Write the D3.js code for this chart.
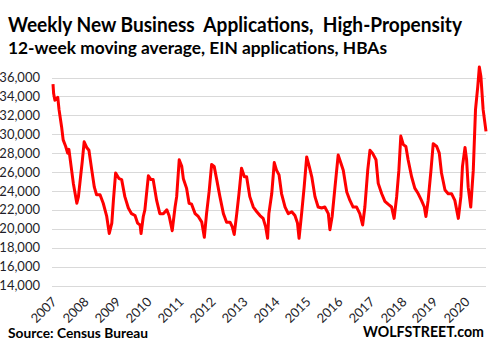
<!DOCTYPE html>
<html>
<head>
  <title>Weekly New Business Applications</title>
  <style>
    body { margin: 0; background: #fff; }
    #chart { position: relative; width: 495px; height: 351px; }
    .grid line { stroke: #d9d9d9; stroke-width: 1; shape-rendering: crispEdges; }
    .tick-label { font-family: Lato, "Open Sans", sans-serif; font-size: 13px; fill: #1e1e28; }
    .year-label {
      position: absolute;
      width: 40px;
      height: 16px;
      line-height: 16px;
      text-align: right;
      font-family: Lato, "Open Sans", sans-serif;
      font-size: 13px;
      color: #1e1e28;
      transform-origin: 100% 50%;
      transform: rotate(-45deg);
      white-space: nowrap;
    }
    .title { font-family: Lato, "Open Sans", sans-serif; font-weight: bold; fill: #000; white-space: pre; }
    .series { fill: none; stroke: #ff0000; stroke-width: 3; stroke-linejoin: round; }
  </style>
  <script src="https://d3js.org/d3.v7.min.js"></script>
</head>
<body>
  <div id="chart"></div>
  <script>
    const width = 495;
    const height = 351;

    // time as decimal year, 12-week moving average of HBA applications
    const weeks = [
      2007.00, 2007.02, 2007.06, 2007.15, 2007.19, 2007.27, 2007.32, 2007.40, 2007.46, 2007.50,
      2007.57, 2007.64, 2007.75, 2007.80, 2007.88, 2007.92, 2007.98, 2008.06, 2008.13, 2008.22,
      2008.30, 2008.37, 2008.48, 2008.58, 2008.69, 2008.77, 2008.85, 2008.90, 2008.97, 2009.08,
      2009.16, 2009.26, 2009.37, 2009.47, 2009.58, 2009.66, 2009.74, 2009.77, 2009.84, 2009.89,
      2010.00, 2010.08, 2010.15, 2010.26, 2010.36, 2010.47, 2010.58, 2010.65, 2010.75, 2010.84,
      2010.89, 2010.97, 2011.05, 2011.10, 2011.20, 2011.28, 2011.36, 2011.47, 2011.57, 2011.68,
      2011.76, 2011.83, 2011.91, 2011.99, 2012.07, 2012.15, 2012.25, 2012.36, 2012.46, 2012.57,
      2012.64, 2012.70, 2012.78, 2012.85, 2012.93, 2013.02, 2013.09, 2013.19, 2013.30, 2013.41,
      2013.51, 2013.61, 2013.69, 2013.75, 2013.79, 2013.88, 2013.96, 2014.03, 2014.11, 2014.19,
      2014.30, 2014.40, 2014.51, 2014.61, 2014.69, 2014.74, 2014.82, 2014.90, 2014.98, 2015.06,
      2015.14, 2015.24, 2015.34, 2015.45, 2015.55, 2015.66, 2015.71, 2015.78, 2015.87, 2015.97,
      2016.06, 2016.13, 2016.24, 2016.34, 2016.44, 2016.55, 2016.65, 2016.74, 2016.81, 2016.90,
      2016.97, 2017.05, 2017.16, 2017.23, 2017.34, 2017.44, 2017.54, 2017.65, 2017.73, 2017.81,
      2017.88, 2017.94, 2018.02, 2018.10, 2018.17, 2018.28, 2018.38, 2018.49, 2018.59, 2018.68,
      2018.73, 2018.80, 2018.89, 2018.96, 2019.07, 2019.15, 2019.22, 2019.33, 2019.43, 2019.54,
      2019.64, 2019.75, 2019.83, 2019.88, 2019.96, 2020.01, 2020.06, 2020.14, 2020.22, 2020.29,
      2020.36, 2020.41, 2020.46, 2020.53, 2020.62
    ];
    const applications = [
      35300, 34300, 33600, 33900, 32600, 30800, 29400, 28700, 28000, 28400,
      26600, 24800, 22700, 23400, 25900, 27100, 29200, 28600, 28300, 26200,
      24400, 23600, 23600, 22700, 21300, 19500, 20600, 23000, 25900, 25300,
      25200, 23400, 22200, 21600, 21400, 20600, 20400, 19500, 21300, 22000,
      25600, 25200, 25200, 23000, 21600, 21600, 22000, 21400, 19800, 22300,
      23400, 27300, 26600, 25300, 24300, 22700, 22600, 21600, 21300, 20700,
      19100, 21600, 23900, 26800, 26600, 25200, 23400, 21600, 20700, 20700,
      20200, 19400, 21600, 23700, 26400, 25500, 25500, 23400, 22300, 21800,
      21400, 21100, 20200, 19000, 21600, 23700, 27000, 26200, 25700, 23700,
      22300, 21600, 21800, 21400, 20600, 19000, 21600, 24400, 27600, 26600,
      25500, 23400, 22300, 22200, 22300, 21600, 19900, 21300, 24400, 27800,
      26900, 26200, 23900, 23000, 22300, 22300, 21600, 20400, 22300, 26200,
      28300, 28000, 27300, 24800, 23700, 22900, 22600, 22300, 21100, 23400,
      26200, 29800, 28900, 28700, 27300, 25500, 24300, 23700, 23000, 22300,
      21300, 23000, 26200, 29000, 28700, 28000, 25900, 24100, 23700, 23700,
      23000, 21100, 23400, 26600, 28600, 27300, 24400, 22300, 26200, 32600,
      35000, 37100, 36100, 32600, 30300
    ];
    const yTicks = [14000, 16000, 18000, 20000, 22000, 24000, 26000, 28000, 30000, 32000, 34000, 36000];
    const yearLabels = [2007, 2008, 2009, 2010, 2011, 2012, 2013, 2014, 2015, 2016, 2017, 2018, 2019, 2020];

    const titleText = "Weekly New Business  Applications,  High-Propensity";
    const subtitleText = "12-week moving average, EIN applications, HBAs";
    const sourceText = "Source: Census Bureau";
    const brandText = "WOLFSTREET.com";

    const chart = d3.select("#chart");

    const svg = chart
      .append("svg")
      .attr("width", width)
      .attr("height", height)
      .style("position", "absolute")
      .style("left", "0px")
      .style("top", "0px");

    const x = d3.scaleLinear()
      .domain([2007, 2020.62])
      .range([53, 486]);

    const y = d3.scaleLinear()
      .domain([14000, 36000])
      .range([285.5, 77.5]);

    // gridlines
    svg.append("g")
      .attr("class", "grid")
      .selectAll("line")
      .data(yTicks)
      .enter()
      .append("line")
      .attr("x1", 52)
      .attr("x2", 486)
      .attr("y1", d => Math.round(y(d)) + 0.5)
      .attr("y2", d => Math.round(y(d)) + 0.5);

    // y labels
    svg.append("g")
      .selectAll("text")
      .data(yTicks)
      .enter()
      .append("text")
      .attr("class", "tick-label")
      .attr("x", 40)
      .attr("y", d => y(d))
      .attr("dy", "0.35em")
      .attr("text-anchor", "end")
      .text(d => d3.format(",")(d));

    // x labels: html boxes rotated 45 degrees about their right-middle point
    chart.selectAll("div.year-label")
      .data(yearLabels)
      .enter()
      .append("div")
      .attr("class", "year-label")
      .style("left", d => (x(d) + 1 - 40) + "px")
      .style("top", (299 - 8) + "px")
      .text(d => d);

    const line = d3.line()
      .x((d, i) => x(weeks[i]))
      .y(d => y(d));

    svg.append("path")
      .datum(applications)
      .attr("class", "series")
      .attr("d", line);

    svg.append("text")
      .attr("class", "title")
      .attr("x", 8)
      .attr("y", 32)
      .attr("font-size", 20)
      .attr("textLength", 454)
      .attr("lengthAdjust", "spacingAndGlyphs")
      .text(titleText);

    svg.append("text")
      .attr("class", "title")
      .attr("x", 8)
      .attr("y", 53.5)
      .attr("font-size", 17)
      .attr("textLength", 379)
      .attr("lengthAdjust", "spacingAndGlyphs")
      .text(subtitleText);

    svg.append("text")
      .attr("class", "title")
      .attr("x", 8)
      .attr("y", 338)
      .attr("font-size", 14)
      .attr("textLength", 140)
      .attr("lengthAdjust", "spacingAndGlyphs")
      .text(sourceText);

    svg.append("text")
      .attr("class", "title")
      .attr("x", 363)
      .attr("y", 337)
      .attr("font-size", 15)
      .attr("textLength", 121)
      .attr("lengthAdjust", "spacingAndGlyphs")
      .text(brandText);
  </script>
</body>
</html>
